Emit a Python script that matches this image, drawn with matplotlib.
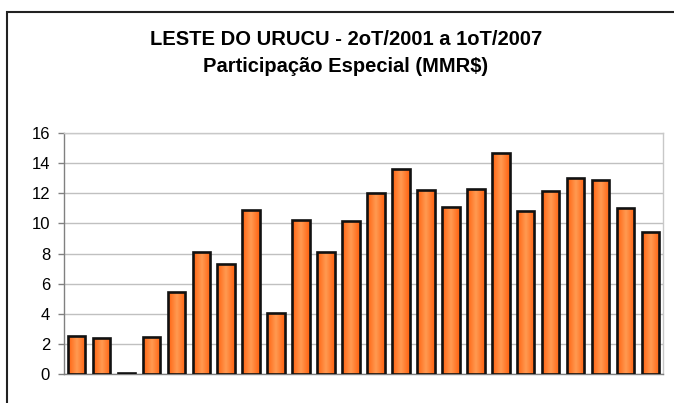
import matplotlib
matplotlib.use("Agg")
import matplotlib.pyplot as plt
import numpy as np
from matplotlib.colors import LinearSegmentedColormap
from matplotlib.patches import Rectangle

# Data: quarters 2T/2001 .. 1T/2007
quarters = ["2T01", "3T01", "4T01", "1T02", "2T02", "3T02", "4T02", "1T03",
            "2T03", "3T03", "4T03", "1T04", "2T04", "3T04", "4T04", "1T05",
            "2T05", "3T05", "4T05", "1T06", "2T06", "3T06", "4T06", "1T07"]
values = [2.55, 2.37, 0.05, 2.44, 5.43, 8.11, 7.31, 10.9, 4.03, 10.25, 8.11, 10.13,
          12.03, 13.58, 12.23, 11.06, 12.3, 14.65, 10.81, 12.17, 12.99, 12.85, 11.01, 9.46]
yticks = [0, 2, 4, 6, 8, 10, 12, 14, 16]
title_lines = ["LESTE DO URUCU - 2oT/2001 a 1oT/2007", "Participação Especial (MMR$)"]

plt.rcParams['font.family'] = ['Liberation Sans', 'DejaVu Sans']

W, H = 674, 403
fig = plt.figure(figsize=(W / 100, H / 100), dpi=100)
fig.patch.set_facecolor('white')

ax = fig.add_axes([64 / W, 1 - 374 / H, (663 - 64) / W, (374 - 133) / H])
x = np.arange(len(values))
bars = ax.bar(x, values, width=0.70, color='none', edgecolor='#111111', linewidth=1.9, zorder=4)

cmap = LinearSegmentedColormap.from_list('og', ['#FF6210', '#FF9A52', '#FF6210'])
grad = np.linspace(0, 1, 64).reshape(1, -1)
for b in bars:
    x0, w, h = b.get_x(), b.get_width(), b.get_height()
    im = ax.imshow(grad, cmap=cmap, extent=[x0, x0 + w, 0, max(h, 0.01)],
                   aspect='auto', origin='lower', zorder=3, interpolation='bilinear')
    im.set_clip_path(b)

ax.set_xlim(-0.5, len(values) - 0.5)
ax.set_ylim(0, 16)
ax.set_yticks(yticks)
ax.set_yticklabels([str(t) for t in yticks], fontsize=12)
ax.set_xticks([])
ax.yaxis.grid(True, color='#C0C0C0', linewidth=1.0, zorder=0)
ax.set_axisbelow(True)
for s in ['top', 'right']:
    ax.spines[s].set_color('#C8C8C8')
    ax.spines[s].set_linewidth(1.0)
ax.spines['left'].set_color('#808080')
ax.spines['left'].set_linewidth(1.0)
ax.spines['bottom'].set_color('#808080')
ax.spines['bottom'].set_linewidth(1.0)
ax.tick_params(axis='y', length=4.5, width=1.0, color='#808080', pad=5.5, labelcolor='black')

fig.text(346 / W, 1 - 39.5 / H, title_lines[0], ha='center', va='center',
         fontsize=14.5, fontweight='bold')
fig.text(346 / W, 1 - 66.5 / H, title_lines[1], ha='center', va='center',
         fontsize=14.5, fontweight='bold')

border = Rectangle((7 / W, -0.2), 1.0, 1.2 - 12 / H, transform=fig.transFigure,
                   fill=False, edgecolor='#222222', linewidth=1.5, clip_on=False)
fig.add_artist(border)

fig.savefig('out.png', dpi=100, facecolor='white')
